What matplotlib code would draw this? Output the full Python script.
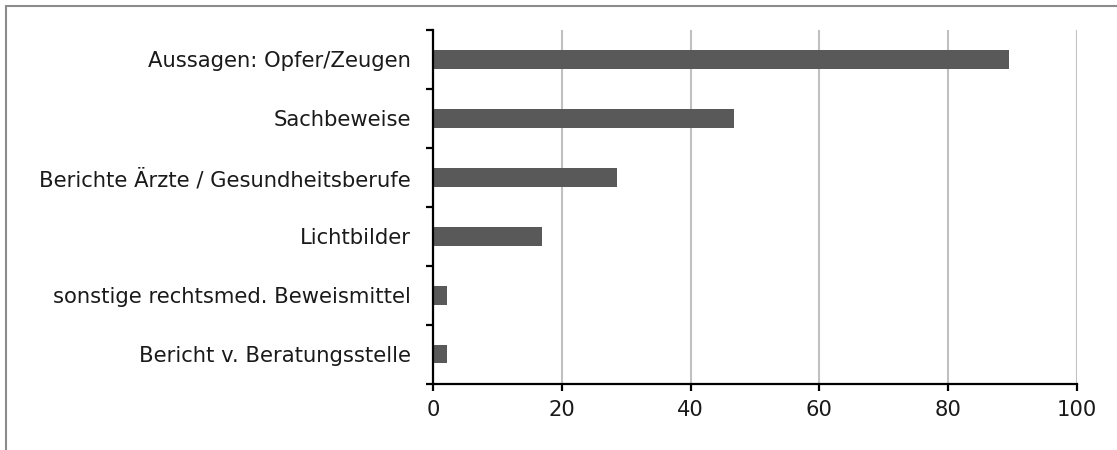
import matplotlib.pyplot as plt
from matplotlib.patches import Rectangle
from matplotlib.ticker import FixedLocator

categories = [
    "Aussagen: Opfer/Zeugen",
    "Sachbeweise",
    "Berichte Ärzte / Gesundheitsberufe",
    "Lichtbilder",
    "sonstige rechtsmed. Beweismittel",
    "Bericht v. Beratungsstelle",
]
values = [89.4, 46.7, 28.6, 16.9, 2.1, 2.1]
x_ticks = [0, 20, 40, 60, 80, 100]

W, H = 1117, 450
fig = plt.figure(figsize=(W / 100, H / 100), dpi=100)
ax = fig.add_axes([433 / W, 66.5 / H, (1077 - 433) / W, (420 - 66.5) / H])

pos = list(range(len(categories)))
ax.barh(pos, values, height=0.32, color="#595959", zorder=3)

ax.set_ylim(len(categories) - 0.5, -0.5)
ax.set_xlim(0, 100)

ax.set_yticks(pos)
ax.set_yticklabels(categories, fontsize=15.2, color="#1a1a1a")
ax.tick_params(axis="y", which="major", length=0, pad=16)
ax.yaxis.set_minor_locator(FixedLocator([p - 0.5 for p in pos] + [len(pos) - 0.5]))
ax.tick_params(axis="y", which="minor", length=5, width=1.6, direction="out")

ax.set_xticks(x_ticks)
ax.set_xticklabels([str(t) for t in x_ticks], fontsize=15.2, color="#1a1a1a")
ax.tick_params(axis="x", length=5, width=1.6, direction="out", pad=7)

ax.xaxis.grid(True, color="#c0c0c0", linewidth=1.5, zorder=0)
ax.set_axisbelow(True)

for side in ("top", "right"):
    ax.spines[side].set_visible(False)
for side in ("left", "bottom"):
    ax.spines[side].set_linewidth(1.6)
    ax.spines[side].set_color("black")
    ax.spines[side].set_zorder(4)

# chart-area frame, running off the right and bottom edges
fig.patches.append(Rectangle((6 / W, -0.1), 1.2, (444 / H) + 0.1,
                             transform=fig.transFigure, fill=False,
                             edgecolor="#8c8c8c", linewidth=1.5))

fig.savefig("out.png", dpi=100)
